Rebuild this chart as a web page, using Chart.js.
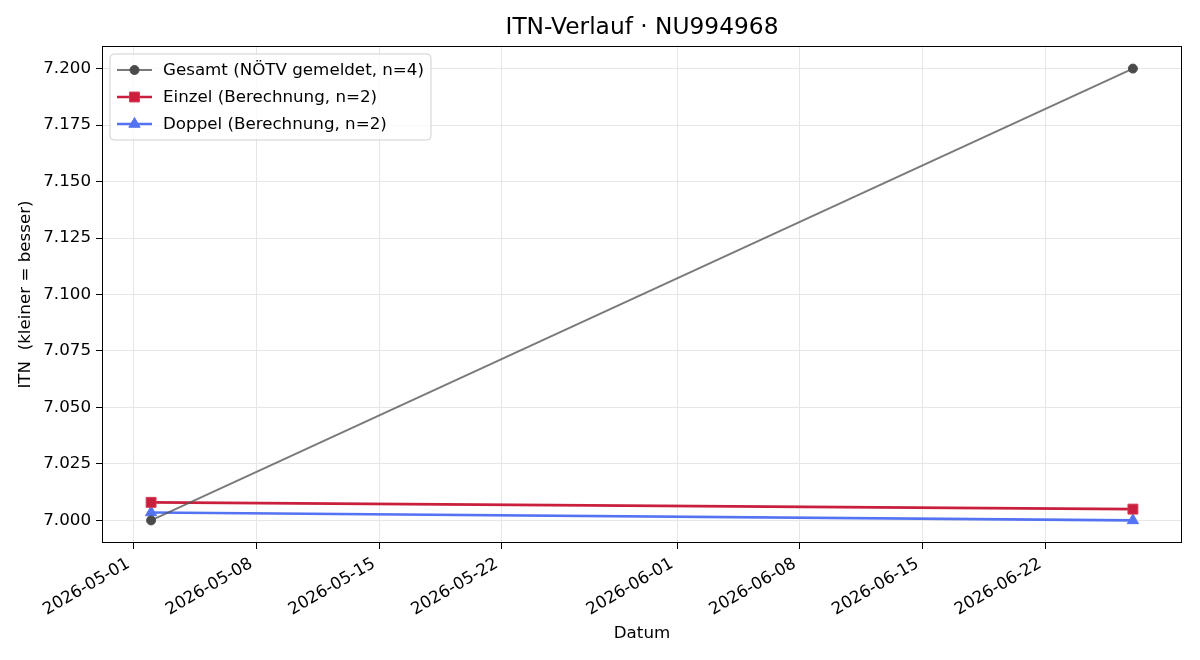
<!DOCTYPE html>
<html>
<head>
<meta charset="utf-8">
<script src="https://cdn.jsdelivr.net/npm/chart.js@4.4.1/dist/chart.umd.min.js"></script>
<style>
  html, body { margin: 0; padding: 0; background: #fff; }
  #wrap { width: 1200px; height: 660px; }
</style>
</head>
<body>
<div id="wrap"><canvas id="c" width="1200" height="660"></canvas></div>
<script>
// ---- data ----
const titleText = 'ITN-Verlauf · NU994968';
const xTitle = 'Datum';
const yTitle = 'ITN  (kleiner = besser)';

const gesamtLabel = 'Gesamt (NÖTV gemeldet, n=4)';
const gesamtDates = ['2026-05-02', '2026-06-27'];
const gesamtValues = [7.000, 7.200];

const einzelLabel = 'Einzel (Berechnung, n=2)';
const einzelDates = ['2026-05-02', '2026-06-27'];
const einzelValues = [7.008, 7.005];

const doppelLabel = 'Doppel (Berechnung, n=2)';
const doppelDates = ['2026-05-02', '2026-06-27'];
const doppelValues = [7.0035, 7.000];

const xTickDates = ['2026-05-01', '2026-05-08', '2026-05-15', '2026-05-22', '2026-06-01', '2026-06-08', '2026-06-15', '2026-06-22'];
const yTicks = [7.000, 7.025, 7.050, 7.075, 7.100, 7.125, 7.150, 7.175, 7.200];
const yRange = [6.99, 7.21];

// ---- helpers ----
const DAY = 86400000;
const toDay = s => { const [y, m, d] = s.split('-').map(Number); return Date.UTC(y, m - 1, d) / DAY; };
const fmtDay = v => new Date(v * DAY).toISOString().slice(0, 10);
const pts = (dates, vals) => dates.map((d, i) => ({ x: toDay(d), y: vals[i] }));

const FONT = 'DejaVu Sans';
const FS = 16.7;

// x range with 5% margins of the data span
const allX = [...gesamtDates, ...einzelDates, ...doppelDates].map(toDay);
const dMin = Math.min(...allX), dMax = Math.max(...allX);
const xMargin = (dMax - dMin) * 0.05;

const frameAndLegend = {
  id: 'frameAndLegend',
  afterDraw(chart) {
    const { ctx, chartArea: a } = chart;
    ctx.save();
    // title centred over the plot area
    ctx.font = '23.3px "' + FONT + '"';
    ctx.fillStyle = '#000';
    ctx.textAlign = 'center';
    ctx.textBaseline = 'middle';
    ctx.fillText(titleText, (a.left + a.right) / 2, 28);

    ctx.strokeStyle = '#000';
    ctx.lineWidth = 1;
    ctx.strokeRect(Math.round(a.left) + 0.5, Math.round(a.top) + 0.5, Math.round(a.right - a.left) - 1, Math.round(a.bottom - a.top) - 1);

    // legend (upper left, inside plot)
    const ds = chart.data.datasets;
    ctx.font = FS + 'px "' + FONT + '"';
    let maxW = 0;
    ds.forEach(d => { maxW = Math.max(maxW, ctx.measureText(d.label).width); });
    const x0 = a.left + 8, y0 = a.top + 8;
    const rowH = 27;
    const w = 53 + maxW + 7, h = 86;
    const r = 4;
    ctx.beginPath();
    ctx.moveTo(x0 + r, y0);
    ctx.lineTo(x0 + w - r, y0); ctx.arcTo(x0 + w, y0, x0 + w, y0 + r, r);
    ctx.lineTo(x0 + w, y0 + h - r); ctx.arcTo(x0 + w, y0 + h, x0 + w - r, y0 + h, r);
    ctx.lineTo(x0 + r, y0 + h); ctx.arcTo(x0, y0 + h, x0, y0 + h - r, r);
    ctx.lineTo(x0, y0 + r); ctx.arcTo(x0, y0, x0 + r, y0, r);
    ctx.closePath();
    ctx.fillStyle = 'rgba(255,255,255,0.8)';
    ctx.fill();
    ctx.strokeStyle = '#d0d0d0';
    ctx.stroke();
    ds.forEach((d, i) => {
      const cy = y0 + 16 + i * rowH;
      ctx.strokeStyle = d.borderColor;
      ctx.lineWidth = d.borderWidth;
      ctx.beginPath(); ctx.moveTo(x0 + 7, cy); ctx.lineTo(x0 + 42, cy); ctx.stroke();
      ctx.fillStyle = d.pointBackgroundColor;
      ctx.strokeStyle = d.pointBorderColor;
      ctx.lineWidth = 1;
      Chart.helpers.drawPoint(ctx, { pointStyle: d.pointStyle, radius: d.pointRadius, borderWidth: 1, rotation: 0 }, x0 + 24.5, cy);
      ctx.fillStyle = '#000';
      ctx.textBaseline = 'middle';
      ctx.textAlign = 'left';
      ctx.fillText(d.label, x0 + 53, cy + 1);
    });
    ctx.restore();
  }
};

new Chart(document.getElementById('c'), {
  type: 'line',
  data: {
    datasets: [
      {
        label: gesamtLabel, data: pts(gesamtDates, gesamtValues),
        borderColor: 'rgba(85,85,85,0.78)', borderWidth: 2,
        pointStyle: 'circle', pointRadius: 4.5,
        pointBackgroundColor: '#4a4a4a', pointBorderColor: '#4a4a4a', pointBorderWidth: 1
      },
      {
        label: einzelLabel, data: pts(einzelDates, einzelValues),
        borderColor: '#c91f3d', borderWidth: 2.6,
        pointStyle: 'rect', pointRadius: 7,
        pointBackgroundColor: '#c91f3d', pointBorderColor: '#d23a55', pointBorderWidth: 1
      },
      {
        label: doppelLabel, data: pts(doppelDates, doppelValues),
        borderColor: '#5473f2', borderWidth: 2.6,
        pointStyle: 'triangle', pointRadius: 6.5,
        pointBackgroundColor: '#5473f2', pointBorderColor: '#5473f2', pointBorderWidth: 1
      }
    ]
  },
  options: {
    responsive: false,
    animation: false,
    devicePixelRatio: 1,
    layout: { padding: { left: 0, right: 18, top: 46, bottom: 0 } },
    elements: { line: { tension: 0 } },
    plugins: {
      legend: { display: false },
      tooltip: { enabled: false },
      title: { display: false }
    },
    scales: {
      x: {
        type: 'linear',
        min: dMin - xMargin, max: dMax + xMargin,
        afterBuildTicks: s => { s.ticks = xTickDates.map(d => ({ value: toDay(d) })); },
        afterFit: s => { s.height = 117; },
        grid: { color: '#e6e6e6', lineWidth: 1, tickColor: '#000', tickLength: 6, drawTicks: true },
        border: { display: false },
        ticks: {
          autoSkip: false, minRotation: 30, maxRotation: 30, padding: 5, labelOffset: -5,
          color: '#000', font: { family: FONT, size: FS },
          callback: v => fmtDay(v)
        },
        title: { display: true, text: xTitle, color: '#000', font: { family: FONT, size: FS }, padding: { top: 0, bottom: 16 } }
      },
      y: {
        min: yRange[0], max: yRange[1],
        afterBuildTicks: s => { s.ticks = yTicks.map(v => ({ value: v })); },
        afterFit: s => { s.width = 102; },
        grid: { color: '#e6e6e6', lineWidth: 1, tickColor: '#000', tickLength: 6 },
        border: { display: false },
        ticks: {
          color: '#000', font: { family: FONT, size: FS }, padding: 5,
          callback: v => v.toFixed(3)
        },
        title: { display: true, text: yTitle, color: '#000', font: { family: FONT, size: FS }, padding: { top: 16, bottom: 0 } }
      }
    }
  },
  plugins: [frameAndLegend]
});
</script>
</body>
</html>
